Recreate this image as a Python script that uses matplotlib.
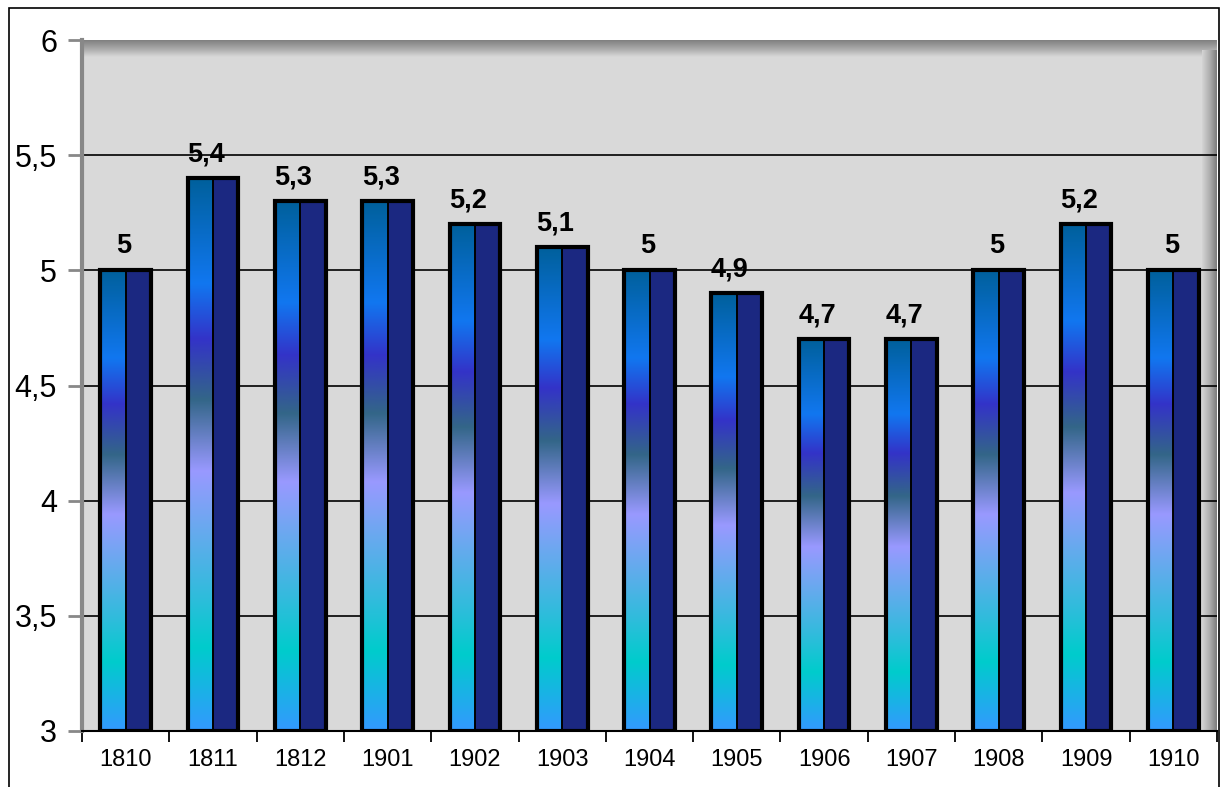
import numpy as np
import matplotlib
matplotlib.use("Agg")
import matplotlib.pyplot as plt
from matplotlib.colors import LinearSegmentedColormap
from matplotlib.patches import Rectangle

plt.rcParams["font.family"] = ["Liberation Sans", "DejaVu Sans"]

years = ["1810", "1811", "1812", "1901", "1902", "1903", "1904",
         "1905", "1906", "1907", "1908", "1909", "1910"]
values = [5, 5.4, 5.3, 5.3, 5.2, 5.1, 5, 4.9, 4.7, 4.7, 5, 5.2, 5]
y_ticks = [3, 3.5, 4, 4.5, 5, 5.5, 6]

# gradient of the bar front, top -> bottom
grad = LinearSegmentedColormap.from_list("bar", [
    (0.00, "#00609C"),
    (0.19, "#1177F0"),
    (0.29, "#3333C8"),
    (0.40, "#336688"),
    (0.53, "#9999FF"),
    (0.64, "#66AAEE"),
    (0.75, "#33BBDD"),
    (0.85, "#00CCCC"),
    (1.00, "#3399FF"),
])

def fmt(v):
    s = ("%g" % v)
    return s.replace(".", ",")

fig = plt.figure(figsize=(12.23, 7.87), dpi=100)
ax = fig.add_axes([82 / 1223, 56 / 787, 1135 / 1223, 691 / 787])
ax.set_facecolor("#D9D9D9")
ax.set_xlim(-0.5, len(years) - 0.5)
ax.set_ylim(3, 6)

# wall shadows (top and right)
top_shadow = np.linspace(0, 1, 50).reshape(-1, 1)
ax.imshow(top_shadow, cmap=LinearSegmentedColormap.from_list("ts", ["#808080", "#A8A8A8", "#D9D9D9"]),
          extent=[0, 1, 0.976, 1], transform=ax.transAxes, aspect="auto", zorder=0.5,
          origin="upper", interpolation="bilinear")
right_shadow = np.linspace(0, 1, 50).reshape(1, -1)
ax.imshow(right_shadow, cmap=LinearSegmentedColormap.from_list("rs", ["#D4D4D4", "#B0B0B0", "#7C7C7C"]),
          extent=[0.987, 1.0, 0, 0.985], transform=ax.transAxes, aspect="auto", zorder=0.5,
          interpolation="bilinear")

for y in y_ticks[1:-1]:
    ax.axhline(y, color="black", lw=1.2, zorder=1)

x = np.arange(len(years))
w = 0.29
gy = np.linspace(0, 1, 256).reshape(-1, 1)
for xi, v in zip(x, values):
    ax.imshow(gy, cmap=grad, extent=[xi - w, xi, 3, v], aspect="auto", zorder=2,
              origin="upper", interpolation="bilinear")
ax.bar(x + w / 2, [v - 3 for v in values], width=w, bottom=3, color="#1B2881",
       edgecolor="black", linewidth=1.2, zorder=3)
ax.bar(x - w / 2, [v - 3 for v in values], width=w, bottom=3, color="none",
       edgecolor="black", linewidth=1.2, zorder=3)
ax.bar(x, [v - 3 for v in values], width=2 * w, bottom=3, color="none",
       edgecolor="black", linewidth=3, zorder=4)

for xi, v in zip(x, values):
    lab = fmt(v)
    dx = -7 if "," in lab else -2
    ax.annotate(lab, (xi, v), xytext=(dx, 17), textcoords="offset pixels",
                ha="center", va="baseline", fontsize=19.5, fontweight="bold", zorder=5)

ax.set_xticks(x)
ax.set_xticklabels(years, fontsize=17)
ax.set_xticks(np.arange(-0.5, len(years)), minor=True)
ax.tick_params(axis="x", which="major", length=0, pad=13)
ax.tick_params(axis="x", which="minor", length=8, width=1.3, color="black", direction="out")

ax.set_yticks(y_ticks)
ax.set_yticklabels([fmt(t) for t in y_ticks], fontsize=22)
ax.tick_params(axis="y", length=10, width=2, color="#888888", pad=8)

for s in ["top", "right"]:
    ax.spines[s].set_visible(False)
ax.spines["left"].set_color("#888888")
ax.spines["left"].set_linewidth(3)
ax.spines["bottom"].set_color("black")
ax.spines["bottom"].set_linewidth(1.5)

fig.patches.append(Rectangle((9 / 1223, -0.02), 1210 / 1223, (779 / 787) + 0.02,
                             transform=fig.transFigure, fill=False, edgecolor="black",
                             linewidth=1.2))

fig.savefig("out.png", dpi=100)
